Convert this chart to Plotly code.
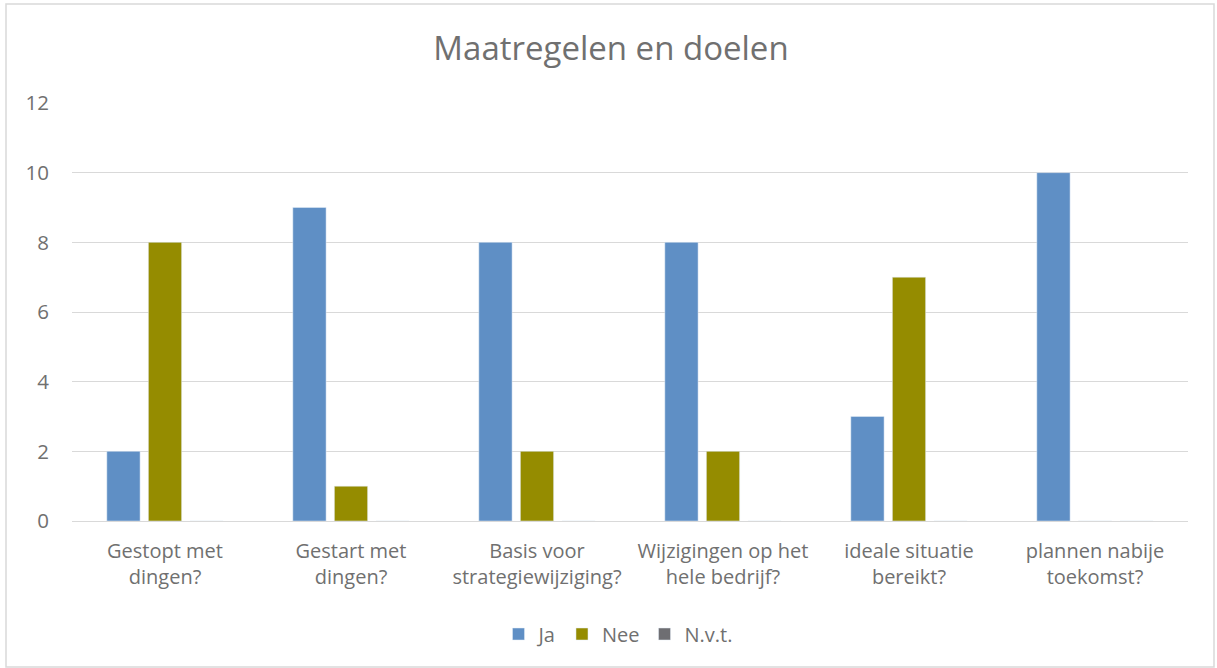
import plotly.graph_objects as go

categories = ["Gestopt met<br>dingen?", "Gestart met<br>dingen?", "Basis voor<br>strategiewijziging?",
              "Wijzigingen op het<br>hele bedrijf?", "ideale situatie<br>bereikt?", "plannen nabije<br>toekomst?"]
ja = [2, 9, 8, 8, 3, 10]
nee = [8, 1, 2, 2, 7, 0]
nvt = [0, 0, 0, 0, 0, 0]
y_ticks = [0, 2, 4, 6, 8, 10, 12]

W, H = 1217, 668
L, R, T, B = 72, 29, 103, 147
pw, ph = W - L - R, H - T - B

def px(x):
    return (x - L) / pw

def py(y):
    return (H - B - y) / ph

font_fam = "'Open Sans', sans-serif"
grey = "#707070"

fig = go.Figure()
fig.add_bar(name="Ja", x=categories, y=ja, marker_color="#5f8fc5")
fig.add_bar(name="Nee", x=categories, y=nee, marker_color="#958c00")
fig.add_bar(name="N.v.t.", x=categories, y=nvt, marker_color="#6e6e72")

fig.update_layout(
    width=W, height=H,
    margin=dict(l=L, r=R, t=T, b=B),
    paper_bgcolor="white", plot_bgcolor="white",
    barmode="group", bargap=0.33, bargroupgap=0.2,
    font=dict(family=font_fam, color=grey, size=20),
    title=dict(text="Maatregelen en doelen", x=px(611), xanchor="center",
               xref="paper", y=1 - 48 / H, yanchor="middle",
               font=dict(size=33, color=grey, family=font_fam)),
    legend=dict(orientation="h", x=px(618), xanchor="center", y=py(634), yanchor="middle",
                font=dict(size=20, color=grey), itemwidth=30, traceorder="normal"),
    yaxis=dict(range=[0, 12], tickvals=y_ticks, gridcolor="#d9d9d9", gridwidth=1,
               zeroline=False, showline=False, ticks="", ticklabelstandoff=22,
               tickfont=dict(size=20.5, color=grey)),
    xaxis=dict(showline=True, linecolor="#d9d9d9", linewidth=1, ticks="",
               ticklabelstandoff=12, tickfont=dict(size=20, color=grey)),
    shapes=[dict(type="rect", xref="paper", yref="paper",
                 x0=px(6), x1=px(1214), y0=py(667), y1=py(4),
                 line=dict(color="#d9d9d9", width=1.5), fillcolor="rgba(0,0,0,0)", layer="below")],
)

fig.write_html("out.html", config={"displayModeBar": False},
               post_script="document.body.style.margin='0';document.body.style.overflow='hidden';")
